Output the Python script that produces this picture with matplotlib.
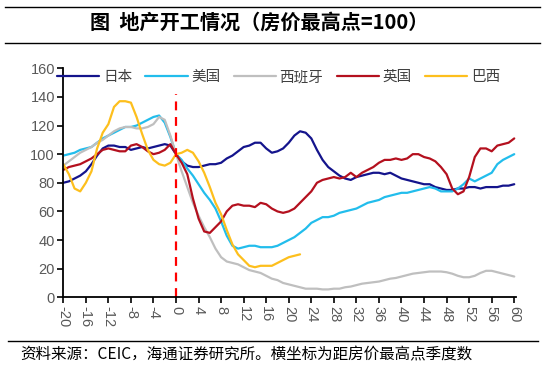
import numpy as np
import matplotlib.pyplot as plt

plt.rcParams['font.family'] = ['Noto Sans CJK SC', 'DejaVu Sans']

# quarters relative to the house price peak
quarters = list(range(-20, 61))
quarters_br = list(range(-20, 23))

japan = [80, 81, 83, 85, 88, 93, 99, 104, 106, 106,
         105, 105, 103, 104, 105, 104, 105, 106, 107, 106,
         100, 95, 92, 91, 91, 92, 93, 93, 94, 97,
         99, 102, 105, 106, 108, 108, 104, 101, 102, 104,
         108, 113, 116, 115, 111, 103, 96, 91, 88, 85,
         83, 82, 84, 85, 86, 87, 87, 86, 87, 85,
         83, 82, 81, 80, 79, 79, 77, 76, 75, 75,
         76, 76, 77, 77, 76, 77, 77, 77, 78, 78, 79]

usa = [99, 100, 101, 103, 104, 105, 108, 111, 113, 115,
       117, 119, 119, 120, 122, 124, 126, 127, 122, 112,
       100, 96, 90, 85, 79, 73, 68, 62, 53, 43,
       36, 34, 35, 36, 36, 35, 35, 35, 36, 38,
       40, 42, 45, 48, 52, 54, 56, 56, 57, 59,
       60, 61, 62, 64, 66, 67, 68, 70, 71, 72,
       73, 73, 74, 75, 76, 77, 76, 74, 74, 74,
       76, 79, 83, 81, 83, 85, 87, 93, 96, 98, 100]

spain = [92, 95, 98, 101, 103, 105, 108, 110, 113, 116,
         118, 119, 119, 118, 118, 119, 121, 126, 124, 113,
         100, 88, 77, 66, 57, 49, 42, 34, 28, 25,
         24, 23, 21, 19, 18, 17, 15, 13, 12, 10,
         9, 8, 7, 6, 6, 6, 5.5, 5.5, 6, 6,
         7, 7.5, 8.5, 9.5, 10, 10.5, 11, 12, 13, 13.5,
         14.5, 15.5, 16.5, 17, 17.5, 18, 18, 18, 17.5, 16.5,
         15, 14, 14, 15, 17, 18.5, 18.5, 17.5, 16.5, 15.5, 14.5]

uk = [89, 91, 92, 93, 95, 97, 100, 103, 104, 103,
      102, 102, 106, 107, 105, 102, 100, 101, 103, 107,
      100, 94, 86, 69, 55, 46, 45, 49, 53, 60,
      64, 65, 64, 64, 63, 66, 65, 62, 60, 59,
      60, 62, 66, 70, 74, 80, 82, 83, 84, 83,
      84, 87, 84, 87, 89, 91, 94, 96, 96, 97,
      96, 97, 100, 100, 98, 97, 95, 91, 86, 76,
      72, 74, 84, 98, 104, 104, 102, 106, 107, 108, 111]

brazil = [93, 86, 76, 74, 80, 88, 104, 115, 121, 133,
          137, 137, 136, 126, 114, 103, 96, 93, 92, 94,
          100, 101, 103, 101, 95, 87, 77, 66, 58, 47,
          37, 30, 26, 22, 21, 22, 22, 22, 24, 26,
          28, 29, 30]

series = [
    ("日本", quarters, japan, "#14148c"),
    ("美国", quarters, usa, "#22bdec"),
    ("西班牙", quarters, spain, "#bfbfbf"),
    ("英国", quarters, uk, "#b4101e"),
    ("巴西", quarters_br, brazil, "#fdbf1d"),
]

fig = plt.figure(figsize=(5.45, 3.71), dpi=100)
ax = fig.add_axes([0.1161, 0.1987, 0.8316, 0.6172])

for name, x, y, c in series:
    ax.plot(x, y, color=c, lw=1.6, label=name, solid_capstyle="round")

# peak marker
ax.plot([0, 0], [0, 142], color="#ff0000", lw=1.6, ls=(0, (4, 3)))

ax.set_xlim(-20, 60.4)
ax.set_ylim(0, 160)
ax.set_xticks(range(-20, 61, 4))
ax.set_yticks(range(0, 161, 20))
ax.set_xticklabels([str(v) for v in range(-20, 61, 4)], rotation=270,
                   family="Liberation Sans", fontsize=10.5, color="#595959")
ax.set_yticklabels([str(v) for v in range(0, 161, 20)],
                   family="Liberation Sans", fontsize=10.5, color="#595959")
for s in ["top", "right"]:
    ax.spines[s].set_visible(False)
for s in ["left", "bottom"]:
    ax.spines[s].set_linewidth(1.3)
ax.tick_params(axis="both", direction="out", length=4, width=1.2, pad=2)

leg = ax.legend(loc="upper center", bbox_to_anchor=(0.475, 1.05), ncol=5,
                frameon=False, fontsize=10.5, handlelength=2.9,
                handletextpad=0.25, columnspacing=0.9)
for t in leg.get_texts():
    t.set_color("#404040")

# title with rules above and below
fig.text(0.475, 0.94, "图  地产开工情况（房价最高点=100）", ha="center", va="center",
         fontsize=14.5, fontweight="bold")
fig.add_artist(plt.Line2D([0.01, 0.99], [0.982, 0.982], color="black", lw=1))
fig.add_artist(plt.Line2D([0.01, 0.99], [0.883, 0.883], color="black", lw=1))
fig.add_artist(plt.Line2D([0.015, 0.987], [0.082, 0.082], color="black", lw=1))

fig.text(0.037, 0.043, "资料来源：CEIC，海通证券研究所。横坐标为距房价最高点季度数",
         ha="left", va="center", fontsize=11.2)

fig.savefig("out.png", dpi=100)
